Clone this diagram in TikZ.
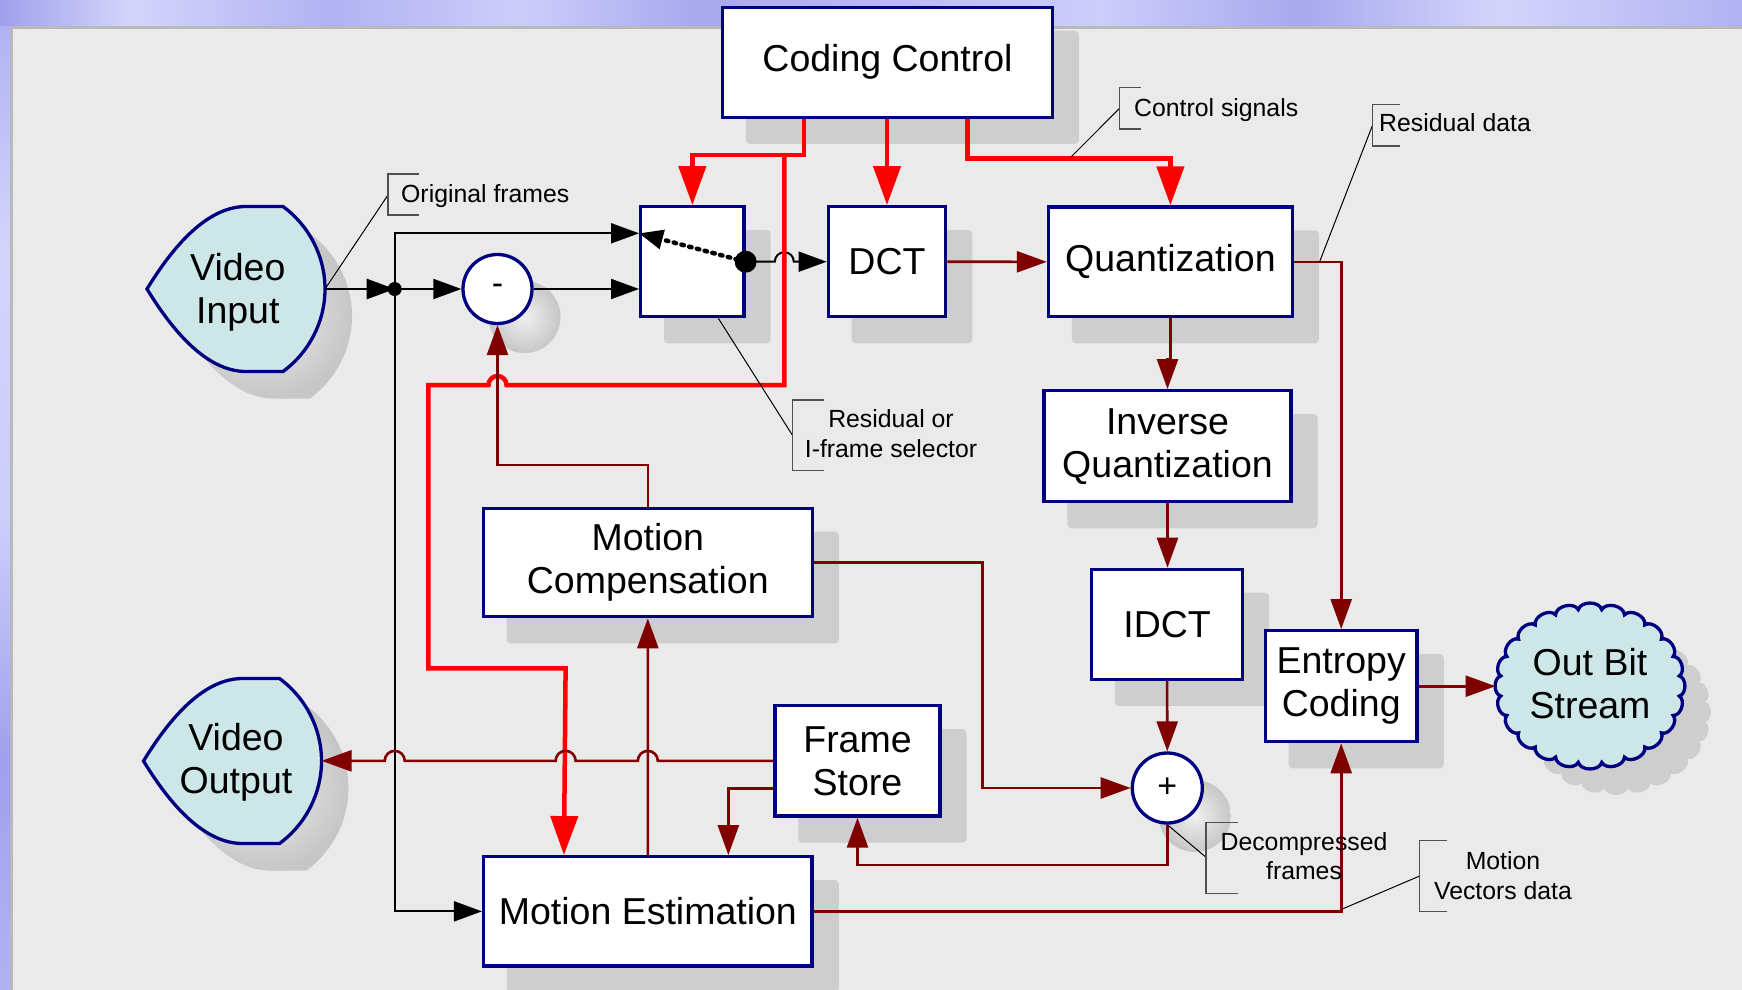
\documentclass[tikz,border=0pt]{standalone}
\usepackage{fontspec}
\setmainfont{Liberation Sans}
\usetikzlibrary{arrows.meta}
\definecolor{navy}{RGB}{0,0,128}
\definecolor{dred}{RGB}{128,0,0}
\definecolor{rred}{RGB}{255,0,0}
\definecolor{cfill}{RGB}{205,230,232}
\definecolor{panelc}{RGB}{234,234,234}
\definecolor{panelb}{RGB}{185,185,185}
\definecolor{shad}{RGB}{206,206,206}
\definecolor{shadlt}{RGB}{240,240,240}
\definecolor{shaddk}{RGB}{198,198,198}
\definecolor{pu1}{RGB}{160,160,236}
\definecolor{pu2}{RGB}{212,212,251}
\definecolor{pu3}{RGB}{178,178,242}
\definecolor{pu4}{RGB}{205,205,250}
\definecolor{pu5}{RGB}{168,168,238}
\definecolor{gbr}{RGB}{80,80,80}
\pgfdeclarelayer{back}
\pgfdeclarelayer{shadow}
\pgfsetlayers{back,shadow,main}
\tikzset{
  box/.style={draw=navy, line width=3.3pt, fill=white, inner sep=0pt, align=center,
    font=\fontsize{37.5}{43}\selectfont},
  sumc/.style={circle, draw=navy, line width=3.3pt, fill=white, inner sep=0pt,
    minimum size=69pt, font=\fontsize{34}{34}\selectfont},
  lbl/.style={inner sep=0pt, align=center, font=\fontsize{37.5}{43}\selectfont},
  note/.style={inner sep=0pt, align=center, font=\fontsize{24.8}{29.5}\selectfont},
  blk/.style={black, line width=2pt},
  blkarrow/.style={-{Triangle[length=28pt,width=20pt]}},
  ctl/.style={rred, line width=4.5pt, -{Triangle[length=39pt,width=27pt]}},
  dat/.style={dred, line width=2.6pt, -{Triangle[length=30pt,width=21pt]}},
  leader/.style={black, line width=1pt},
  brk/.style={gbr, line width=1.4pt},
  vshape/.style={draw=navy, line width=3.3pt, fill=cfill},
}
\begin{document}
\begin{tikzpicture}[x=1pt, y=-1pt, line join=miter]
\useasboundingbox (0,0) rectangle (1742,990);

% ---------- background ----------
\begin{pgfonlayer}{back}
\shade[left color=pu1, right color=pu2] (0,0) rectangle (130,28);
\shade[left color=pu2, right color=pu3] (130,0) rectangle (330,28);
\shade[left color=pu3, right color=pu4] (330,0) rectangle (520,28);
\shade[left color=pu4, right color=pu5] (520,0) rectangle (700,28);
\shade[left color=pu5, right color=pu4] (700,0) rectangle (1100,28);
\shade[left color=pu4, right color=pu5] (1100,0) rectangle (1300,28);
\shade[left color=pu5, right color=pu2] (1300,0) rectangle (1500,28);
\shade[left color=pu2, right color=pu3] (1500,0) rectangle (1742,28);
\shade[top color=pu3, bottom color=pu2] (0,27) rectangle (12,250);
\shade[top color=pu2, bottom color=pu4] (0,250) rectangle (12,520);
\shade[top color=pu4, bottom color=pu1] (0,520) rectangle (12,760);
\shade[top color=pu1, bottom color=pu3] (0,760) rectangle (12,990);
\fill[panelc] (11,27) rectangle (1742,990);
\draw[panelb, line width=3pt] (11.5,990) -- (11.5,27.5) -- (1742,27.5);
\end{pgfonlayer}

% ---------- boxes ----------
\node[box, minimum width=329.6pt, minimum height=110pt] (cc) at (887.5,62.3) {Coding Control};
\node[box, minimum width=103.3pt, minimum height=110pt] (sw) at (692.35,261.7) {};
\node[box, minimum width=117.4pt, minimum height=110pt] (dct) at (887,261.7) {DCT};
\node[box, minimum width=243.8pt, minimum height=109.7pt] (q) at (1170.4,261.85) {Quantization};
\node[box, minimum width=247pt, minimum height=111pt] (iq) at (1167.5,446.2) {Inverse\\Quantization};
\node[box, minimum width=150.8pt, minimum height=110pt] (idct) at (1167.1,624.3) {IDCT};
\node[box, minimum width=151.8pt, minimum height=111pt] (ent) at (1341.2,686.2) {Entropy\\Coding};
\node[box, minimum width=329pt, minimum height=108.4pt] (mc) at (647.8,562.5) {Motion\\Compensation};
\node[box, minimum width=165pt, minimum height=110.3pt] (fs) at (857.5,760.85) {Frame\\Store};
\node[box, minimum width=328.5pt, minimum height=109.3pt] (me) at (647.85,911.35) {Motion Estimation};
\node[sumc] (minus) at (497.5,289) {-};
\node[sumc, minimum size=70pt] (plus) at (1167.3,788) {+};

% ---------- shadows ----------
\begin{pgfonlayer}{shadow}
\foreach \n in {cc,sw,dct,q,iq,idct,ent,mc,fs,me}{
  \fill[shad, rounded corners=4pt] ([shift={(25pt,-25pt)}]\n.south west) rectangle ([shift={(25pt,-25pt)}]\n.north east);
}
\shade[inner color=shadlt, outer color=shaddk] ([shift={(27pt,-28pt)}]minus.center) circle (36pt);
\shade[inner color=shadlt, outer color=shaddk] ([shift={(27.5pt,-28pt)}]plus.center) circle (36pt);
\begin{scope}[shift={(174,316)}]
\shade[inner color=shadlt, outer color=shaddk] (0,0) .. controls (22,-36) and (57,-82.5) .. (99,-82.5) -- (136,-82.5) .. controls (162.5,-63) and (178,-32.3) .. (178,0) .. controls (178,32.3) and (162.5,63) .. (136,82.5) -- (99,82.5) .. controls (57,82.5) and (22,36) .. (0,0) -- cycle;
\end{scope}
\begin{scope}[shift={(170.5,788)}]
\shade[inner color=shadlt, outer color=shaddk] (0,0) .. controls (22,-36) and (57,-82.5) .. (99,-82.5) -- (136,-82.5) .. controls (162.5,-63) and (178,-32.3) .. (178,0) .. controls (178,32.3) and (162.5,63) .. (136,82.5) -- (99,82.5) .. controls (57,82.5) and (22,36) .. (0,0) -- cycle;
\end{scope}
\fill[shad] ({1616+90*cos(7.5)},{712+77*sin(7.5)}) \foreach \i in {1,...,24}{ to[bend left=75] ({1616+90*cos(\i*15+7.5)},{712+77*sin(\i*15+7.5)}) } -- cycle;
\end{pgfonlayer}

% ---------- video shapes and cloud ----------
\begin{scope}[shift={(147,289)}]
\draw[vshape] (0,0) .. controls (22,-36) and (57,-82.5) .. (99,-82.5) -- (136,-82.5) .. controls (162.5,-63) and (178,-32.3) .. (178,0) .. controls (178,32.3) and (162.5,63) .. (136,82.5) -- (99,82.5) .. controls (57,82.5) and (22,36) .. (0,0) -- cycle;
\end{scope}
\begin{scope}[shift={(143.5,761)}]
\draw[vshape] (0,0) .. controls (22,-36) and (57,-82.5) .. (99,-82.5) -- (136,-82.5) .. controls (162.5,-63) and (178,-32.3) .. (178,0) .. controls (178,32.3) and (162.5,63) .. (136,82.5) -- (99,82.5) .. controls (57,82.5) and (22,36) .. (0,0) -- cycle;
\end{scope}
\node[lbl] (vin) at (237.8,291.9) {Video\\Input};
\node[lbl] (vout) at (236,762) {Video\\Output};
\draw[vshape] ({1590+90*cos(7.5)},{686+77*sin(7.5)}) \foreach \i in {1,...,24}{ to[bend left=75] ({1590+90*cos(\i*15+7.5)},{686+77*sin(\i*15+7.5)}) } -- cycle;
\node[lbl] (obs) at (1590,684) {Out Bit\\Stream};

\coordinate (vinR) at (325,289);
\coordinate (voutR) at (321.5,760.85);
\coordinate (jn) at (394.7,289);
\coordinate (cloudW) at (1495.5,686.2);
\coordinate (swdot) at (sw.east);
\coordinate (rbr) at (784.3,153.3);

% ---------- black connectors ----------
\draw[blk, blkarrow, line width=2.6pt] (vinR) -- (jn);
\draw[blk, blkarrow] (jn) -- (minus.west);
\draw[blk, blkarrow] (minus.east) -- (minus.east -| sw.west);
\draw[blk, blkarrow] (jn) |- ([yshift=28.4pt]sw.west);
\draw[blk, blkarrow] (jn) |- (me.west);
\fill[black] (jn) circle (7pt);
\draw[blk, blkarrow] (swdot) -- (774.8,261.7) arc[start angle=180, end angle=360, radius=9.5] -- (dct.west);
\draw[black, line width=4.5pt, dash pattern=on 2.5pt off 5.5pt, line cap=round, -{Triangle[length=24pt,width=19pt]}] (swdot) -- ([yshift=28.4pt]sw.west);
\fill[black] (swdot) circle (11pt);

% ---------- control (red) ----------
\draw[ctl] ([xshift=83pt]cc.south west) -- ++(0,36) -| (sw.north);
\draw[ctl] (rbr) -- (784.3,385) -- (506.5,385) arc[start angle=0, end angle=-180, radius=9] -- (428.3,385) -- (428.3,668.3) -- (565.6,668.3) -- ([xshift=82pt]me.north west);
\draw[ctl] (cc.south -| dct.north) -- (dct.north);
\draw[ctl] ([xshift=246.6pt]cc.south west) -- ++(0,39.7) -| (q.north);

% ---------- data (dark red) ----------
\draw[dat] (dct.east) -- (q.west);
\draw[dat] (q.east) -| (ent.north);
\draw[dat] (q.south) -- ++(0,41.3) -| (iq.north);
\draw[dat] (iq.south) -- (iq.south |- idct.north);
\draw[dat] (idct.south) -- (plus.north);
\draw[dat] (ent.east) -- (cloudW);
\draw[dat] (plus.south) -- ++(0,40.3) -| (fs.south);
\draw[dat] (mc.east) -- (982.3,562.5) |- (plus.west);
\draw[dat] (mc.north) -- ++(0,-41.6) -| (minus.south);
\draw[dat] (me.north) -- (mc.south);
\draw[dat] (fs.west) -- (657.8,760.85) arc[start angle=0, end angle=-180, radius=10] -- (575.6,760.85) arc[start angle=0, end angle=-180, radius=10] -- (404.7,760.85) arc[start angle=0, end angle=-180, radius=10] -- (voutR);
\draw[dat] ([yshift=-27.4pt]fs.west) -| ([xshift=246.4pt]me.north west);
\draw[dat] (me.east) -| (ent.south);

% ---------- callouts ----------
\draw[leader] (vinR) -- (388,195);
\draw[brk] (419,174) -- (388,174) -- (388,215) -- (419,215);
\node[note, anchor=base west] (nof) at (401,202.3) {Original frames};

\draw[leader] (1071,157) -- (1119.6,108.3);
\draw[brk] (1141,87.7) -- (1119.6,87.7) -- (1119.6,129) -- (1141,129);
\node[note, anchor=base west] (ncs) at (1134,116) {Control signals};

\draw[leader] ([xshift=25.6pt]q.east) -- (1372.6,125);
\draw[brk] (1400,104.3) -- (1372.6,104.3) -- (1372.6,146) -- (1400,146);
\node[note, anchor=base west] (nrd) at (1379,131.7) {Residual data};

\draw[leader] ([xshift=26pt]sw.south) -- (792.3,435);
\draw[brk] (824.3,400) -- (792.3,400) -- (792.3,470.7) -- (824.3,470.7);
\node[note] (nrs) at (891,433.8) {Residual or\\I-frame selector};

\draw[leader] (plus.south) -- (1206,857.3);
\draw[brk] (1237.6,822.7) -- (1206,822.7) -- (1206,893.3) -- (1237.6,893.3);
\node[note] (ndf) at (1304,856) {Decompressed\\frames};

\draw[leader] (1341.6,909.3) -- (1419.6,876);
\draw[brk] (1447,840.7) -- (1419.6,840.7) -- (1419.6,911.7) -- (1447,911.7);
\node[note] (nmv) at (1503,875.6) {Motion\\Vectors data};
\end{tikzpicture}
\end{document}
